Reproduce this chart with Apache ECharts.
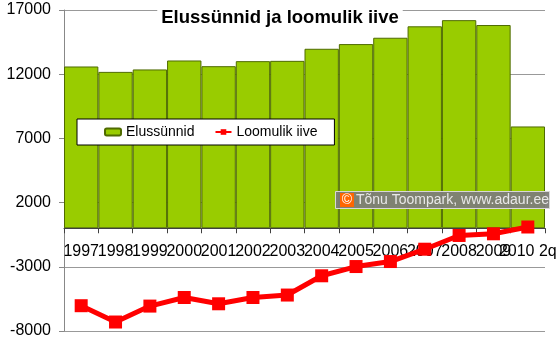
<!DOCTYPE html>
<html>
<head>
<meta charset="utf-8">
<script src="https://cdn.jsdelivr.net/npm/echarts@6/dist/echarts.min.js"></script>
<style>
html,body{margin:0;padding:0;background:#fff;}
#c{width:560px;height:342px;}
</style>
</head>
<body>
<div id="c"></div>
<script>
const categories = ['1997','1998','1999','2000','2001','2002','2003','2004','2005','2006','2007','2008','2009','2010 2q'];
const births = [12600, 12180, 12370, 13067, 12625, 13016, 13040, 13980, 14345, 14840, 15730, 16210, 15830, 7930];
const naturalIncrease = [-6030, -7300, -6060, -5390, -5880, -5390, -5200, -3700, -2980, -2590, -1630, -560, -430, 100];
const yTicks = { min: -8000, max: 17000, interval: 5000 };

const chart = echarts.init(document.getElementById('c'), null, {renderer: 'canvas'});
const FONT = 'Liberation Sans, Arial, sans-serif';
const GRID_TOP = 10, GRID_BOTTOM = 11, H = 342;
// pixel row of value 0, used to place the label-only category axis on the zero line
const zeroBottom = H - (GRID_TOP + (H - GRID_TOP - GRID_BOTTOM) * yTicks.max / (yTicks.max - yTicks.min));

chart.setOption({
  animation: false,
  backgroundColor: '#fff',
  title: {
    text: 'Elussünnid ja loomulik iive',
    left: 'center',
    top: 4,
    padding: [4, 4, 2, 4],
    backgroundColor: '#fff',
    textStyle: {fontFamily: FONT, fontWeight: 'bold', fontSize: 18.5, color: '#000', lineHeight: 20}
  },
  legend: {
    left: 77, top: 119,
    padding: [6, 17, 6, 27],
    backgroundColor: '#fff',
    borderColor: '#000',
    borderWidth: 1,
    borderRadius: 0,
    itemWidth: 16,
    itemHeight: 7,
    itemGap: 20,
    textStyle: {fontFamily: FONT, fontSize: 14, color: '#000'},
    data: ['Elussünnid', 'Loomulik iive'],
    z: 10
  },
  grid: [
    {left: 64, right: 15, top: GRID_TOP, bottom: GRID_BOTTOM, containLabel: false, outerBoundsMode: 'none'},
    {left: 64, right: 15, top: GRID_TOP, bottom: zeroBottom, containLabel: false, outerBoundsMode: 'none'}
  ],
  xAxis: [
    {
      type: 'category', gridIndex: 0,
      data: categories,
      boundaryGap: true,
      axisLine: {show: false},
      axisTick: {show: false},
      axisLabel: {show: false},
      splitLine: {show: false}
    },
    {
      type: 'category', gridIndex: 1,
      data: categories,
      boundaryGap: true,
      position: 'bottom',
      axisLine: {onZero: false, lineStyle: {color: '#404040', width: 1}},
      axisTick: {show: true, length: 5, lineStyle: {color: '#404040'}},
      axisLabel: {interval: 0, margin: 15, fontFamily: FONT, fontSize: 16, color: '#000', hideOverlap: false},
      splitLine: {show: false},
      z: 3
    }
  ],
  yAxis: [
    {
      type: 'value', gridIndex: 0,
      min: yTicks.min, max: yTicks.max, interval: yTicks.interval,
      axisLine: {show: true, lineStyle: {color: '#888', width: 1}},
      axisTick: {show: true, length: 5, lineStyle: {color: '#888'}},
      axisLabel: {margin: 13, fontFamily: FONT, fontSize: 16, color: '#000', formatter: v => String(v)},
      splitLine: {show: true, lineStyle: {color: '#999', width: 1}}
    },
    {
      type: 'value', gridIndex: 1, min: 0, max: 1,
      axisLine: {show: false}, axisTick: {show: false}, axisLabel: {show: false}, splitLine: {show: false}
    }
  ],
  series: [
    {
      name: 'Elussünnid',
      type: 'bar',
      data: births,
      barCategoryGap: '0%',
      itemStyle: {color: '#99cc00', borderColor: '#4f6b00', borderWidth: 1},
      z: 2
    },
    {
      name: 'Loomulik iive',
      type: 'line',
      data: naturalIncrease,
      symbol: 'rect',
      symbolSize: 13,
      lineStyle: {color: '#ff0000', width: 5},
      itemStyle: {color: '#ff0000'},
      z: 4
    }
  ],
  graphic: [
    {type: 'rect', z: 20, shape: {x: 335.5, y: 191.5, width: 214, height: 17}, style: {fill: 'rgba(125,125,120,0.95)', stroke: '#d8d8d8', lineWidth: 1}},
    {type: 'rect', z: 21, shape: {x: 340, y: 193, width: 14, height: 14}, style: {fill: '#ff6600'}},
    {type: 'text', z: 22, x: 347, y: 200, style: {text: '©', fill: '#fff', fontSize: 14, fontFamily: FONT, align: 'center', verticalAlign: 'middle'}},
    {type: 'text', z: 22, x: 356, y: 200, style: {text: 'Tõnu Toompark, www.adaur.ee', fill: '#e8e8e8', fontSize: 14, fontFamily: FONT, verticalAlign: 'middle'}}
  ]
});
</script>
</body>
</html>
